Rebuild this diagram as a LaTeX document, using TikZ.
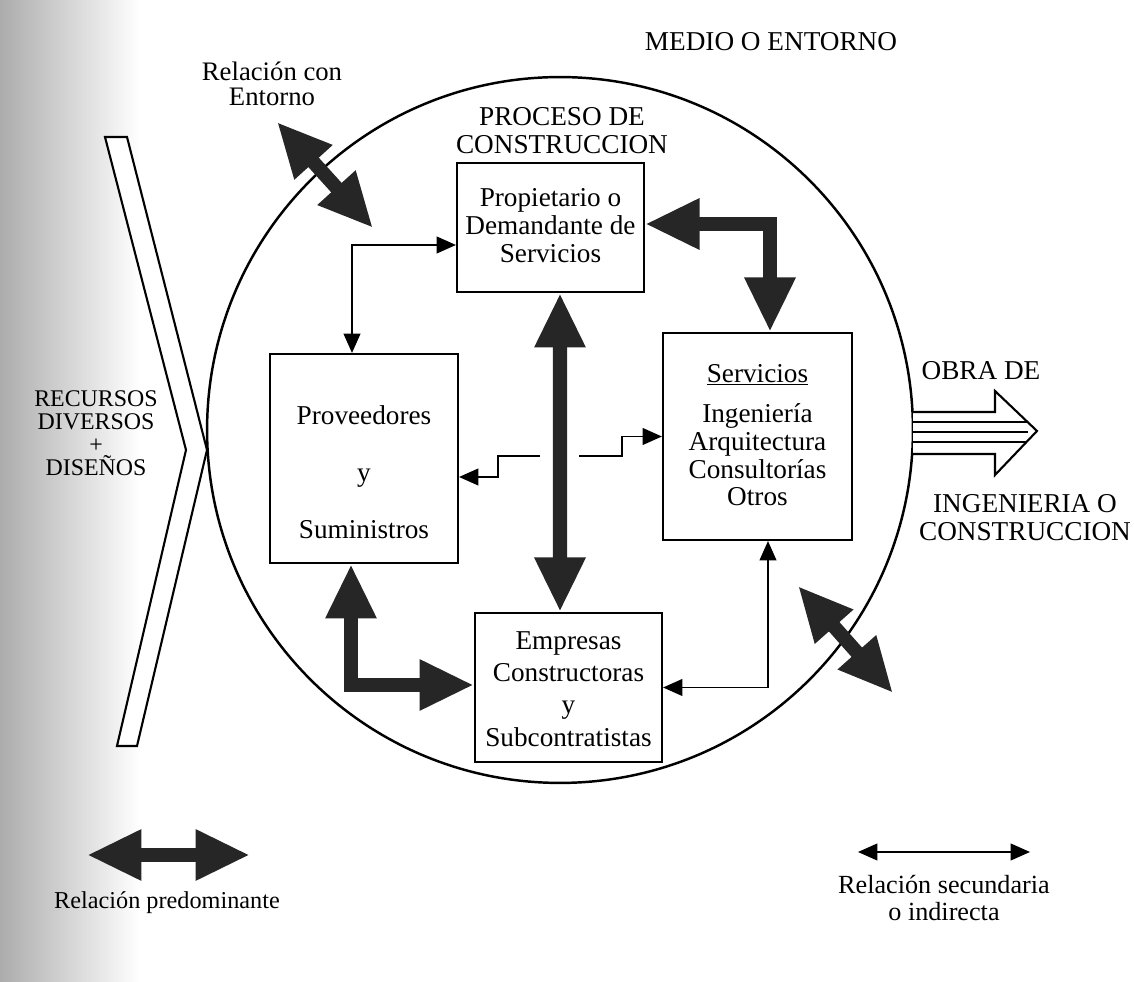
\documentclass[tikz,border=0pt]{standalone}
\usepackage{fontspec}
\setmainfont{Liberation Serif}
\usetikzlibrary{arrows.meta}
\newcommand\myfs[2]{\fontsize{#1}{#2}\selectfont}
\definecolor{darkfill}{gray}{0.15}
\begin{document}
\begin{tikzpicture}[x=0.02cm,y=-0.02cm,
  box/.style={draw, line width=1.2pt, inner sep=0pt, fill=white},
  txt/.style={align=center, inner sep=0pt, font=\myfs{15.5}{16}},
  thickarr/.style={line width=8pt, draw=darkfill, line join=miter,
    {Triangle[length=31pt,width=27pt]}-{Triangle[length=31pt,width=27pt]}},
  thinarr/.style={line width=1.1pt, {Triangle[length=11pt,width=9.5pt]}-{Triangle[length=11pt,width=9.5pt]}},
  thinone/.style={line width=1.1pt, -{Triangle[length=11pt,width=9.5pt]}},
]
\useasboundingbox (0,0) rectangle (1134,982);
% scanned page shading on the left
\shade[left color=gray!65, right color=white] (0,0) rectangle (140,982);

% circle
\draw[line width=1.4pt] (560,430) circle[radius=7.06cm];

% chevron
\draw[line width=1.2pt, line join=miter, fill=white] (105,137) -- (127,137) -- (207,450) -- (137,746) -- (117,746) -- (186,450) -- cycle;

% obra arrow
\coordinate (obra) at (913,433);
\begin{scope}
  \clip (913,412) -- (995,412) -- (995,391) -- (1037,431) -- (995,475) -- (995,454) -- (913,454) -- cycle;
  \fill[white] (900,380) rectangle (1040,480);
  \foreach \yy in {422,432,442} \draw[line width=0.9pt] (905,\yy) -- (1028,\yy);
\end{scope}
\draw[line width=1.2pt, line join=miter] (913,412) -- (995,412) -- (995,391) -- (1037,431) -- (995,475) -- (995,454) -- (913,454);

% boxes
\node[box, minimum width=3.74cm, minimum height=2.58cm] (prop) at (550.5,227.5) {};
\node[box, minimum width=3.76cm, minimum height=4.18cm] (prov) at (364,458.5) {};
\node[box, minimum width=3.78cm, minimum height=4.14cm] (serv) at (757.5,436.5) {};
\node[box, minimum width=3.74cm, minimum height=2.98cm] (emp) at (568.5,687.5) {};

\node[txt, font=\myfs{15.5}{15.9}] (proptxt) at (550.5,226) {Propietario o\\Demandante de\\Servicios};
\node[txt, font=\myfs{15.5}{32.3}] (provtxt) at (364,472) {Proveedores\\y\\Suministros};
\node[txt] (servhead) at (757.5,375) {\underline{Servicios}};
\node[txt, font=\myfs{15.5}{15.7}] (servtxt) at (757.5,455) {Ingeniería\\Arquitectura\\Consultorías\\Otros};
\node[txt, font=\myfs{15.5}{18.3}] (emptxt) at (568.5,689) {Empresas\\Constructoras\\y\\Subcontratistas};

% labels
\node[txt] (medio) at (771,42) {MEDIO O ENTORNO};
\node[txt, font=\myfs{15.2}{14}] (relent) at (272,84) {Relación con\\Entorno};
\node[txt] (proceso) at (562,131) {PROCESO DE\\CONSTRUCCION};
\node[txt, font=\myfs{13.6}{13}] (recursos) at (96,433) {RECURSOS\\DIVERSOS\\+\\DISEÑOS};
\node[txt] (obrade) at (981,371) {OBRA DE};
\node[txt] (ingcons) at (1025,518) {INGENIERIA O\\CONSTRUCCION};

% thin connectors
\draw[thinarr] ([yshift=-0.35cm]prop.west) -| ([xshift=-0.24cm]prov.north);
\draw[thinarr] ([xshift=0.21cm]serv.south) |- (emp.east);
\coordinate (sL) at (540,456);
\coordinate (sR) at (579,456);
\draw[thinone] (sL) -- (498,456) |- ([yshift=-0.37cm]prov.east);
\draw[thinone] (sR) -- (622,456) |- (serv.west);

% thick connectors
\draw[thickarr] ([xshift=0.19cm]prop.south) -- ([xshift=-0.17cm]emp.north);
\draw[thickarr] ([yshift=0.07cm]prop.east) -| ([xshift=0.25cm]serv.north);
\draw[thickarr] ([xshift=-0.26cm]prov.south) |- ([yshift=0.05cm]emp.west);

% environment relation arrows
\coordinate (re1) at (277,122);
\coordinate (re2) at (373,228);
\draw[thickarr] (re1) -- (re2);
\coordinate (rs1) at (798,586);
\coordinate (rs2) at (893,693);
\draw[thickarr] (rs1) -- (rs2);

% legend
\coordinate (lp1) at (87,855);
\coordinate (lp2) at (250,855);
\draw[thickarr] (lp1) -- (lp2);
\node[txt, font=\myfs{13.8}{14}] (lptxt) at (167,903) {Relación predominante};
\coordinate (ls1) at (858,852);
\coordinate (ls2) at (1030,852);
\draw[thinarr] (ls1) -- (ls2);
\node[txt, font=\myfs{14.9}{15.2}] (lstxt) at (944,898) {Relación secundaria\\o indirecta};
\end{tikzpicture}
\end{document}
